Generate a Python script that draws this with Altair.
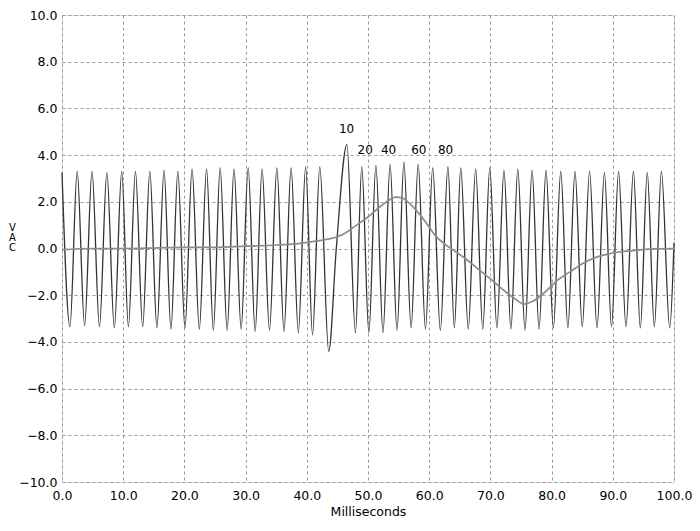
import altair as alt
import pandas as pd

# Oscillating trace: peaks and troughs (ms, VAC)
peak_t = [0.0, 2.48, 4.90, 7.33, 9.76, 12.00, 14.35, 16.67, 18.93, 21.25, 23.62,
          25.84, 28.11, 30.42, 32.69, 35.11, 37.43, 39.81, 42.12, 46.55, 48.98,
          51.29, 53.61, 55.87, 58.20, 60.57, 63.06, 65.16, 67.59, 69.90, 72.22,
          74.48, 76.81, 79.08, 81.50, 83.82, 86.20, 88.63, 90.94, 93.37, 95.63, 97.94]
peak_v = [3.25, 3.3, 3.3, 3.25, 3.3, 3.3, 3.3, 3.35, 3.3, 3.4, 3.4,
          3.45, 3.4, 3.45, 3.4, 3.45, 3.45, 3.5, 3.5, 4.45, 3.5,
          3.55, 3.6, 3.7, 3.6, 3.45, 3.5, 3.45, 3.4, 3.45, 3.35,
          3.4, 3.35, 3.35, 3.3, 3.3, 3.3, 3.25, 3.3, 3.3, 3.25, 3.3]
trough_t = [1.30, 3.69, 6.12, 8.55, 10.85, 13.18, 15.51, 17.80, 20.09, 22.44,
            24.73, 26.98, 29.27, 31.56, 33.90, 36.27, 38.62, 40.94, 43.58, 47.95,
            50.14, 52.45, 54.74, 57.04, 59.39, 61.82, 64.11, 66.38, 68.75, 71.06,
            73.35, 75.65, 77.95, 80.29, 82.66, 85.01, 87.42, 89.79, 92.16, 94.50,
            96.79, 99.30]
trough_v = [-3.35, -3.3, -3.35, -3.4, -3.35, -3.35, -3.4, -3.45, -3.4, -3.45,
            -3.5, -3.5, -3.45, -3.55, -3.5, -3.55, -3.6, -3.7, -4.4, -3.6,
            -3.6, -3.6, -3.5, -3.4, -3.45, -3.5, -3.4, -3.45, -3.45, -3.4,
            -3.45, -3.5, -3.45, -3.4, -3.4, -3.35, -3.4, -3.35, -3.35, -3.4,
            -3.35, -3.4]
extra_t = [44.82, 100.0]
extra_v = [0.0, 0.25]

# Slow gray trace
env_t = [0, 5, 10, 15, 20, 25, 30, 35, 38, 41, 43, 45, 46.5, 48, 50, 52, 53.5,
         54.5, 55.5, 56.5, 58, 59.5, 61, 62.5, 64, 66, 68, 70, 72, 74, 75.5, 77,
         79, 81, 83, 85, 87, 89, 91, 93, 95, 97, 100]
env_v = [-0.05, 0.0, 0.0, 0.02, 0.05, 0.05, 0.1, 0.15, 0.2, 0.3, 0.38, 0.5,
         0.7, 0.98, 1.35, 1.8, 2.08, 2.2, 2.18, 2.0, 1.6, 1.1, 0.55, 0.2,
         -0.08, -0.45, -0.88, -1.3, -1.75, -2.15, -2.38, -2.25, -1.85, -1.35,
         -1.0, -0.65, -0.4, -0.25, -0.15, -0.1, -0.05, -0.02, 0.0]

# Annotations
label_text = ["10", "20", "40", "60", "80"]
label_x = [46.49, 49.55, 53.37, 58.30, 62.67]
label_y = [5.10, 4.23, 4.23, 4.23, 4.23]

x_ticks = [0, 10, 20, 30, 40, 50, 60, 70, 80, 90, 100]
y_ticks = [-10, -8, -6, -4, -2, 0, 2, 4, 6, 8, 10]

wave = pd.DataFrame({
    "t": peak_t + trough_t + extra_t,
    "v": peak_v + trough_v + extra_v,
}).sort_values("t").reset_index(drop=True)
env = pd.DataFrame({"t": env_t, "v": env_v})
labels = pd.DataFrame({"text": label_text, "t": label_x, "v": label_y})

FONT = "DejaVu Sans"

xscale = alt.Scale(domain=[0, 100], nice=False, zero=False)
yscale = alt.Scale(domain=[-10, 10], nice=False)

xaxis = alt.Axis(values=x_ticks, format=".1f", grid=True, gridDash=[3, 3],
                 gridColor="#9a9a9a", gridWidth=1, domain=False, ticks=False,
                 labelFlush=False, labelPadding=7, labelFontSize=12.5,
                 labelColor="#000", labelFont=FONT, title="Milliseconds",
                 titleFont=FONT, titleFontSize=12.5, titleFontWeight="normal",
                 titleColor="#000", titlePadding=4)
yaxis = alt.Axis(values=y_ticks, format=".1f", grid=True, gridDash=[3, 3],
                 gridColor="#9a9a9a", gridWidth=1, domain=False, ticks=False,
                 labelFlush=False, labelPadding=5, labelFontSize=12.5,
                 labelColor="#000", labelFont=FONT, title=["V", "A", "C"],
                 titleAngle=0, titleX=-50, titleY=207, titleAlign="center",
                 titleBaseline="top", titleLineHeight=10, titleFont=FONT,
                 titleFontSize=10, titleFontWeight="normal", titleColor="#000")

wave_line = alt.Chart(wave).mark_line(
    color="#333333", strokeWidth=1.3, interpolate="monotone"
).encode(
    x=alt.X("t:Q", scale=xscale, axis=xaxis),
    y=alt.Y("v:Q", scale=yscale, axis=yaxis),
    order="t:Q",
)

env_line = alt.Chart(env).mark_line(
    color="#8c8c8c", strokeWidth=1.7, interpolate="monotone"
).encode(
    x=alt.X("t:Q", scale=xscale),
    y=alt.Y("v:Q", scale=yscale),
)

text = alt.Chart(labels).mark_text(
    font=FONT, fontSize=12, color="#000", align="center", baseline="middle"
).encode(
    x=alt.X("t:Q", scale=xscale),
    y=alt.Y("v:Q", scale=yscale),
    text="text:N",
)

chart = alt.layer(wave_line, env_line, text).properties(
    width=612,
    height=467,
    padding={"left": 54, "top": 7, "right": 18, "bottom": 38},
    autosize=alt.AutoSizeParams(type="none"),
).configure_view(strokeWidth=0).configure(background="white")

chart.save("out.html", embed_options={"renderer": "svg", "actions": False})
